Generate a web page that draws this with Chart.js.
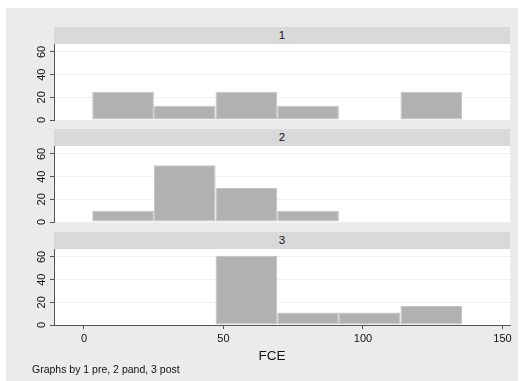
<!DOCTYPE html>
<html>
<head>
<meta charset="utf-8">
<script src="https://cdn.jsdelivr.net/npm/chart.js@4/dist/chart.umd.min.js"></script>
<style>
  html, body { margin: 0; padding: 0; background: #ffffff; }
  body { width: 519px; height: 381px; position: relative; overflow: hidden;
         font-family: "Liberation Sans", Arial, Helvetica, sans-serif; color: #111; }
  #frame { position: absolute; left: 6px; top: 8px; width: 512px; height: 373px; background: #ebebeb; }
  .strip { position: absolute; left: 54px; width: 456px; height: 17px; background: #d9d9d9;
           font-size: 11.5px; line-height: 17px; text-align: center; color: #111; }
  .panel { position: absolute; left: 0; width: 519px; }
  #xtitle { position: absolute; left: 222px; width: 100px; top: 348px; font-size: 13.5px;
            line-height: 16px; text-align: center; color: #111; }
  #note { position: absolute; left: 32px; top: 363px; font-size: 10.5px; line-height: 12px; color: #111; }
</style>
</head>
<body>
<div id="frame"></div>
<div class="strip" id="s1" style="top:27px"></div>
<div class="strip" id="s2" style="top:129px"></div>
<div class="strip" id="s3" style="top:232px"></div>
<div class="panel" style="top:34px;height:96px"><canvas id="p1" width="519" height="96"></canvas></div>
<div class="panel" style="top:136px;height:96px"><canvas id="p2" width="519" height="96"></canvas></div>
<div class="panel" style="top:239px;height:142px"><canvas id="p3" width="519" height="142"></canvas></div>
<div id="xtitle"></div>
<div id="note"></div>
<script>
// FCE histogram by period: bin midpoints and percent of observations per bin
const binMids  = [14, 36.1, 58.2, 80.3, 102.4, 124.5];
const pctPre   = [25, 12.5, 25, 12.5, 0, 25];
const pctPand  = [10, 50, 30, 10, 0, 0];
const pctPost  = [0, 0, 61.1, 11.1, 11.1, 16.7];
const groupLabels = ['1', '2', '3'];
const yTicks = [0, 20, 40, 60];
const xTicks = [0, 50, 100, 150];
const xTitle = 'FCE';
const noteText = 'Graphs by 1 pre, 2 pand, 3 post';

const FONT = 'Liberation Sans, Arial, Helvetica, sans-serif';
const AXIS = '#555555';

document.getElementById('s1').textContent = groupLabels[0];
document.getElementById('s2').textContent = groupLabels[1];
document.getElementById('s3').textContent = groupLabels[2];
document.getElementById('xtitle').textContent = xTitle;
document.getElementById('note').textContent = noteText;

// white plot region behind the bars
const plotBg = {
  id: 'plotBg',
  beforeDraw(chart) {
    const a = chart.chartArea, ctx = chart.ctx;
    ctx.save();
    ctx.fillStyle = '#ffffff';
    ctx.fillRect(a.left, a.top, a.right - a.left, a.bottom - a.top);
    ctx.restore();
  }
};

function makePanel(id, values, showX) {
  const pts = binMids.map((x, i) => ({ x: x, y: values[i] }));
  return new Chart(document.getElementById(id), {
    type: 'bar',
    data: {
      datasets: [{
        data: pts,
        backgroundColor: '#b1b1b1',
        borderColor: '#c3c3c3',
        borderWidth: 1,
        borderSkipped: false,
        inflateAmount: 0,
        barPercentage: 1,
        categoryPercentage: 1
      }]
    },
    options: {
      responsive: false,
      animation: false,
      events: [],
      layout: { padding: { top: 10, bottom: showX ? 0 : 10, left: 0, right: 9 } },
      plugins: { legend: { display: false }, tooltip: { enabled: false } },
      scales: {
        x: {
          type: 'linear',
          min: -10.75,
          max: 152.7,
          offset: false,
          display: showX,
          afterBuildTicks(s) { s.ticks = xTicks.map(v => ({ value: v })); },
          afterFit(s) { s.height = showX ? 56 : 0; },
          grid: { offset: false, drawOnChartArea: false, drawTicks: true, tickLength: 4, tickColor: AXIS },
          border: { display: true, color: AXIS, width: 1 },
          ticks: { padding: 3, color: '#111', font: { family: FONT, size: 11 }, maxRotation: 0 }
        },
        y: {
          min: 0,
          max: 67,
          afterBuildTicks(s) { s.ticks = yTicks.map(v => ({ value: v })); },
          afterFit(s) { s.width = 54; },
          grid: { color: '#eef0f0', lineWidth: 1, drawTicks: true, tickLength: 4, tickColor: AXIS },
          border: { display: true, color: AXIS, width: 1 },
          ticks: { padding: 1.5, crossAlign: 'center', minRotation: 90, maxRotation: 90,
                   color: '#111', font: { family: FONT, size: 11 } }
        }
      }
    },
    plugins: [plotBg]
  });
}

makePanel('p1', pctPre, false);
makePanel('p2', pctPand, false);
makePanel('p3', pctPost, true);
</script>
</body>
</html>
